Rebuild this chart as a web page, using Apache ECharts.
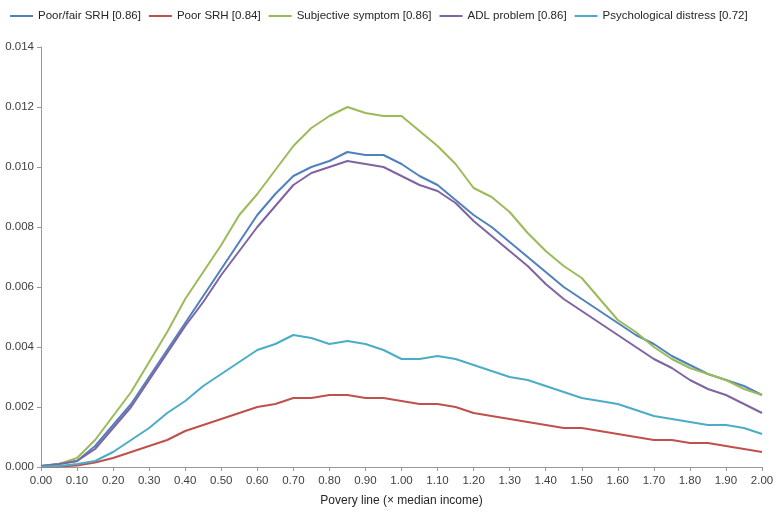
<!DOCTYPE html>
<html>
<head>
<meta charset="utf-8">
<script src="https://cdn.jsdelivr.net/npm/echarts@6/dist/echarts.min.js"></script>
<style>html,body{margin:0;padding:0;background:#fff;}#c{width:778px;height:512px;}</style>
</head>
<body>
<div id="c"></div>
<script>
const xValues = [0.00,0.05,0.10,0.15,0.20,0.25,0.30,0.35,0.40,0.45,0.50,0.55,0.60,0.65,0.70,0.75,0.80,0.85,0.90,0.95,1.00,1.05,1.10,1.15,1.20,1.25,1.30,1.35,1.40,1.45,1.50,1.55,1.60,1.65,1.70,1.75,1.80,1.85,1.90,1.95,2.00];
const seriesNames = ["Poor/fair SRH [0.86]","Poor SRH [0.84]","Subjective symptom [0.86]","ADL problem [0.86]","Psychological distress [0.72]"];
const poorFairSRH = [0.00003,0.0001,0.0002,0.0007,0.0014,0.0021,0.0030,0.0039,0.0048,0.0057,0.0066,0.0075,0.0084,0.0091,0.0097,0.0100,0.0102,0.0105,0.0104,0.0104,0.0101,0.0097,0.0094,0.0089,0.0084,0.0080,0.0075,0.0070,0.0065,0.0060,0.0056,0.0052,0.0048,0.0044,0.0041,0.0037,0.0034,0.0031,0.0029,0.0027,0.0024];
const poorSRH = [0.00001,0.00002,0.00005,0.00015,0.0003,0.0005,0.0007,0.0009,0.0012,0.0014,0.0016,0.0018,0.0020,0.0021,0.0023,0.0023,0.0024,0.0024,0.0023,0.0023,0.0022,0.0021,0.0021,0.0020,0.0018,0.0017,0.0016,0.0015,0.0014,0.0013,0.0013,0.0012,0.0011,0.0010,0.0009,0.0009,0.0008,0.0008,0.0007,0.0006,0.0005];
const subjectiveSymptom = [0.00003,0.0001,0.0003,0.0009,0.0017,0.0025,0.0035,0.0045,0.0056,0.0065,0.0074,0.0084,0.0091,0.0099,0.0107,0.0113,0.0117,0.0120,0.0118,0.0117,0.0117,0.0112,0.0107,0.0101,0.0093,0.0090,0.0085,0.0078,0.0072,0.0067,0.0063,0.0056,0.0049,0.0045,0.0040,0.0036,0.0033,0.0031,0.0029,0.0026,0.0024];
const adlProblem = [0.00003,0.0001,0.0002,0.0006,0.0013,0.0020,0.0029,0.0038,0.0047,0.0055,0.0064,0.0072,0.0080,0.0087,0.0094,0.0098,0.0100,0.0102,0.0101,0.0100,0.0097,0.0094,0.0092,0.0088,0.0082,0.0077,0.0072,0.0067,0.0061,0.0056,0.0052,0.0048,0.0044,0.0040,0.0036,0.0033,0.0029,0.0026,0.0024,0.0021,0.0018];
const psychDistress = [0.00001,0.00003,0.0001,0.0002,0.0005,0.0009,0.0013,0.0018,0.0022,0.0027,0.0031,0.0035,0.0039,0.0041,0.0044,0.0043,0.0041,0.0042,0.0041,0.0039,0.0036,0.0036,0.0037,0.0036,0.0034,0.0032,0.0030,0.0029,0.0027,0.0025,0.0023,0.0022,0.0021,0.0019,0.0017,0.0016,0.0015,0.0014,0.0014,0.0013,0.0011];
const colors = ["#4F81BD","#C0504D","#9BBB59","#8064A2","#4BACC6"];
const allData = [poorFairSRH, poorSRH, subjectiveSymptom, adlProblem, psychDistress];

const chart = echarts.init(document.getElementById('c'), null, {renderer:'canvas'});
const FONT = 'Liberation Sans, Arial, sans-serif';
const textStyle = {fontFamily:FONT, color:'#404040', fontSize:11.5};
chart.setOption({
  animation:false,
  backgroundColor:'#fff',
  color: colors,
  legend:{
    top:5, left:5,
    itemWidth:23, itemHeight:2, itemGap:8,
    icon:'rect',
    textStyle:{fontFamily:FONT, color:'#262626', fontSize:11.5},
    data: seriesNames
  },
  grid:{left:41, right:16, top:47, bottom:44, containLabel:false},
  xAxis:{
    type:'value', min:0, max:2, interval:0.1,
    name:'Povery line (× median income)', nameLocation:'middle', nameGap:28,
    nameTextStyle:{fontFamily:FONT, color:'#262626', fontSize:12},
    axisLine:{lineStyle:{color:'#999', width:1}},
    axisTick:{show:true, length:4, lineStyle:{color:'#999'}},
    axisLabel:Object.assign({margin:8, formatter:v=>v.toFixed(2)}, textStyle),
    splitLine:{show:false}
  },
  yAxis:{
    type:'value', min:0, max:0.014, interval:0.002,
    axisLine:{show:true, lineStyle:{color:'#999', width:1}},
    axisTick:{show:true, length:4, lineStyle:{color:'#999'}},
    axisLabel:Object.assign({margin:7, formatter:v=>v.toFixed(3)}, textStyle),
    splitLine:{show:false}
  },
  series: seriesNames.map((n,i)=>({
    name:n, type:'line', showSymbol:false, symbol:'none',
    lineStyle:{width:2, color:colors[i]},
    data: xValues.map((x,j)=>[x, allData[i][j]])
  }))
});
</script>
</body>
</html>
